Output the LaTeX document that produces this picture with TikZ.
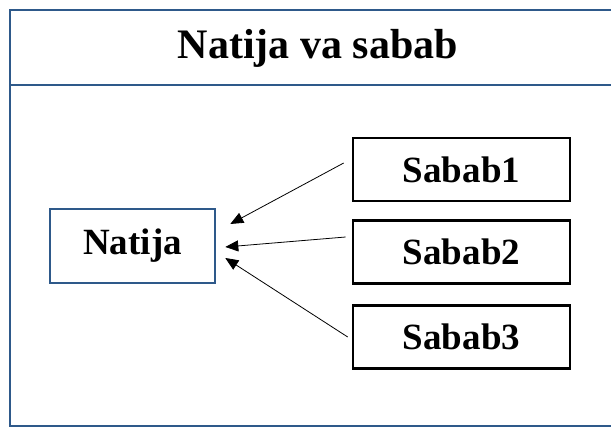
\documentclass[tikz,border=0pt]{standalone}
\usepackage{fontspec}
\setmainfont{Liberation Serif}
\usetikzlibrary{arrows.meta}

\definecolor{frameblue}{RGB}{46,89,138}

\begin{document}
\begin{tikzpicture}[x=1pt, y=-1pt,
        frame/.style={draw=frameblue, line width=2.8pt},
        natbox/.style={draw=frameblue, line width=2.6pt, minimum width=165pt, minimum height=74pt,
            font=\fontsize{37}{40}\selectfont\bfseries},
        sabbox/.style={draw, line width=2.6pt, minimum width=217pt, minimum height=63pt,
            font=\fontsize{37}{40}\selectfont\bfseries},
        arr/.style={line width=0.8pt, -{Triangle[length=13pt,width=11pt]}}]
            \useasboundingbox (0,0) rectangle (611,427);

            \draw[frame] (611,10) -- (10,10) -- (10,426) -- (611,426);
            \draw[frame] (10,85) -- (611,85);
            \node[font=\fontsize{42}{46}\selectfont\bfseries] (title) at (318,48) {Natija va sabab};

            \node[natbox] (natija) at (132.5,246) {Natija};

            \node[sabbox] (sabab1) at (461.5,169.5) {Sabab1};
            \node[sabbox] (sabab2) at (461.5,252) {Sabab2};
            \node[sabbox] (sabab3) at (461.5,337) {Sabab3};

            \draw[arr] ([xshift=-8pt, yshift=6.5pt]sabab1.west) -- ([xshift=14pt, yshift=22pt]natija.east);
            \draw[arr] ([xshift=-6pt, yshift=15pt]sabab2.west) -- ([xshift=9pt, yshift=-1pt]natija.east);
            \draw[arr] ([xshift=-4pt]sabab3.west) -- ([xshift=9pt, yshift=-12pt]natija.east);

        \end{tikzpicture}
\end{document}
